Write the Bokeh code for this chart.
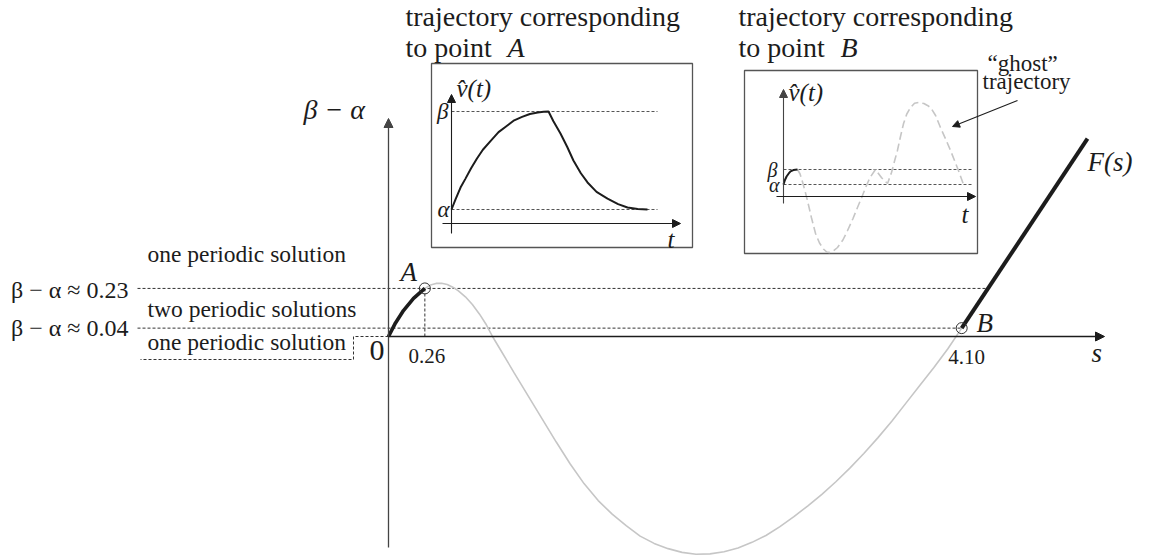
import numpy as np
from bokeh.plotting import figure
from bokeh.models import Range1d, Arrow, NormalHead
from bokeh.core.properties import value
from bokeh.embed import file_html
from bokeh.resources import INLINE

# ---------------- data ----------------
# F(s): solid black branch from the origin up to point A
s_left = [0.0, 0.05, 0.107, 0.179, 0.26]
F_left = [0.0, 0.065, 0.124, 0.182, 0.23]
# F(s): grey branch between A and B
s_grey = [0.26, 0.30, 0.34, 0.38, 0.42, 0.46, 0.50, 0.55, 0.60, 0.65, 0.70, 0.744,
          0.82, 0.90, 1.00, 1.10, 1.20, 1.30, 1.40, 1.50, 1.60, 1.70, 1.80, 1.90,
          2.00, 2.10, 2.20, 2.30, 2.40, 2.50, 2.60, 2.70, 2.80, 2.90, 3.00, 3.10,
          3.20, 3.30, 3.40, 3.50, 3.60, 3.70, 3.80, 3.90, 4.00, 4.10]
F_grey = [0.23, 0.246, 0.254, 0.255, 0.249, 0.236, 0.218, 0.19, 0.153, 0.108, 0.056, 0.0,
          -0.085, -0.175, -0.285, -0.395, -0.505, -0.61, -0.705, -0.785, -0.85, -0.905,
          -0.955, -0.99, -1.015, -1.033, -1.042, -1.04, -1.03, -1.012, -0.985, -0.952,
          -0.91, -0.862, -0.81, -0.755, -0.695, -0.63, -0.56, -0.485, -0.405, -0.32,
          -0.235, -0.15, -0.06, 0.04]
# F(s): solid black branch beyond B
s_right = [4.10, 5.00]
F_right = [0.04, 0.947]

point_A = (0.26, 0.23)
point_B = (4.10, 0.04)
level_values = [0.04, 0.23]
level_labels = ["β − α ≈ 0.04", "β − α ≈ 0.23"]
tick_values = [0.26, 4.10]
tick_labels = ["0.26", "4.10"]

# inset A: trajectory for point A  (t, v normalised: alpha=0, beta=1)
tA = [0.0, 0.02, 0.046, 0.07, 0.10, 0.13, 0.16, 0.20, 0.24, 0.28, 0.32, 0.36,
      0.40, 0.44, 0.47, 0.495, 0.52, 0.556, 0.59, 0.622, 0.66, 0.694, 0.74,
      0.796, 0.85, 0.898, 0.95, 1.0]
vA = [0.0, 0.10, 0.224, 0.31, 0.42, 0.52, 0.61, 0.70, 0.79, 0.85, 0.91, 0.945,
      0.975, 0.99, 0.998, 1.0, 0.9, 0.776, 0.64, 0.5, 0.37, 0.276, 0.18,
      0.112, 0.055, 0.02, 0.005, 0.0]
# inset B: trajectory for point B
tB_black = [0.0, 0.008, 0.017, 0.028, 0.039, 0.055, 0.078]
vB_black = [0.0, 0.3, 0.53, 0.72, 0.87, 0.96, 1.0]
tB_ghost = [0.078, 0.092, 0.105, 0.12, 0.133, 0.155, 0.178, 0.20, 0.222, 0.24,
            0.255, 0.275, 0.30, 0.33, 0.356, 0.385, 0.411, 0.435, 0.456, 0.48,
            0.511, 0.545, 0.578, 0.60, 0.62, 0.633, 0.65, 0.667, 0.685, 0.706,
            0.728, 0.75, 0.78, 0.80, 0.817, 0.845, 0.872, 0.90, 0.928, 0.95,
            0.972, 1.0]
vB_ghost = [1.0, 0.7, 0.2, -0.45, -1.067, -2.2, -3.267, -3.9, -4.3, -4.5,
            -4.53, -4.45, -4.2, -3.7, -3.067, -2.3, -1.533, -0.85, -0.2, 0.45,
            1.0, 0.45, 0.067, 0.8, 1.7, 2.267, 3.2, 4.067, 4.7, 5.133,
            5.42, 5.467, 5.4, 5.27, 5.133, 4.6, 3.8, 3.05, 2.267, 1.6,
            0.933, 0.0]

# ---------------- layout ----------------
W, H = 1149, 560
PAGE = 0
OX, OY, SX, SY = 388, 336, 139.8, 209.0          # main s/F frame
AX0, AY0, ASX, ASY = 451, 209, 196.0, 98.0        # inset A
BX0, BY0, BSX, BSY = 783, 184, 180.0, 15.0        # inset B

FONT = "Liberation Serif"
INK = "#1c1c1c"
AXC = "#333333"
GREY = "#c6c6c6"


def rng(origin, scale, lo, hi, flip=False):
    if flip:
        return Range1d((origin - hi) / scale, (origin - lo) / scale)
    return Range1d((lo - origin) / scale, (hi - origin) / scale)


def sx(px):
    return (px - OX) / SX


def sy(py):
    return (OY - py) / SY


p = figure(width=W, height=H, output_backend="svg", toolbar_location=None,
           x_range=rng(OX, SX, PAGE, PAGE + W),
           y_range=rng(OY, SY, PAGE, PAGE + H, flip=True),
           x_axis_type=None, y_axis_type=None, min_border=0)
p.grid.visible = False
p.outline_line_color = None
p.extra_x_ranges = {"tA": rng(AX0, ASX, PAGE, PAGE + W),
                    "tB": rng(BX0, BSX, PAGE, PAGE + W)}
p.extra_y_ranges = {"vA": rng(AY0, ASY, PAGE, PAGE + H, flip=True),
                    "vB": rng(BY0, BSY, PAGE, PAGE + H, flip=True)}


def txt(x, y, s, size, style="normal", align="left", baseline="middle",
        color=INK, xr=None, yr=None):
    kw = {}
    if xr:
        kw["x_range_name"] = xr
    if yr:
        kw["y_range_name"] = yr
    p.text(x=[x], y=[y], text=[s], text_font=value(FONT),
           text_font_size=value(f"{size}px"), text_font_style=style,
           text_align=align, text_baseline=baseline, text_color=color, **kw)


def arrow(x0, y0, x1, y1, color=AXC, width=1.2, size=9, xr="default", yr="default"):
    p.add_layout(Arrow(x_start=x0, y_start=y0, x_end=x1, y_end=y1,
                       line_color=color, line_width=width,
                       x_range_name=xr, y_range_name=yr,
                       end=NormalHead(size=size, fill_color=color, line_color=color,
                                      line_width=1)))


DASH = "3 2"

# ---------------- main diagram ----------------
p.line([sx(137), point_B[0]], [level_values[0]] * 2, line_color=AXC, line_width=1, line_dash=DASH)
s_cross = s_right[0] + (level_values[1] - F_right[0]) * (s_right[1] - s_right[0]) / (F_right[1] - F_right[0])
p.line([sx(137), s_cross], [level_values[1]] * 2, line_color=AXC, line_width=1, line_dash=DASH)
p.line([0, sx(353), sx(353), sx(140)], [0, 0, sy(359), sy(359)],
       line_color=AXC, line_width=1, line_dash=DASH)
p.line([point_A[0], point_A[0]], [0, point_A[1]], line_color=AXC, line_width=1, line_dash=DASH)

p.line(s_grey, F_grey, line_color=GREY, line_width=1.6)
p.line(s_left, F_left, line_color=INK, line_width=3.6)
p.line(s_right, F_right, line_color=INK, line_width=4.0)

arrow(0, sy(547), 0, sy(118), color="#444444", width=1.3)
arrow(0, 0, sx(1104), 0, color=INK, width=1.3)

p.scatter([point_A[0], point_B[0]], [point_A[1], point_B[1]], marker="circle", size=11,
          fill_color=None, line_color=AXC, line_width=1)

txt(sx(303), sy(109), "β − α", 28, style="italic")
txt(sx(128), sy(289), level_labels[1], 24, align="right")
txt(sx(128), sy(327), level_labels[0], 24, align="right")
txt(sx(147), sy(253), "one periodic solution", 23.5)
txt(sx(147), sy(308), "two periodic solutions", 23.5)
txt(sx(147), sy(341), "one periodic solution", 23.5)
txt(sx(384), sy(350), "0", 30, align="right")
txt(tick_values[0] + sx(426) - sx(424), sy(355), tick_labels[0], 21, align="center")
txt(tick_values[1] + sx(966) - sx(961), sy(356), tick_labels[1], 21, align="center")
txt(sx(400), sy(271), "A", 27, style="italic")
txt(sx(976), sy(322), "B", 27, style="italic")
txt(sx(1091), sy(352), "s", 27, style="italic")
txt(sx(1087), sy(161), "F(s)", 27, style="italic")

# ---------------- inset A ----------------
p.quad(left=[(431 - AX0) / ASX], right=[(692 - AX0) / ASX],
       top=[(AY0 - 63) / ASY], bottom=[(AY0 - 247) / ASY],
       fill_color=None, line_color="#555555", line_width=1.3,
       x_range_name="tA", y_range_name="vA")
for lv in (0, 1):
    p.line([0, 1.051], [lv, lv], line_color="#555555", line_width=1, line_dash=DASH,
           x_range_name="tA", y_range_name="vA")
p.line(tA, vA, line_color=INK, line_width=2, x_range_name="tA", y_range_name="vA")
arrow(0, (AY0 - 233) / ASY, 0, (AY0 - 94) / ASY, color=INK, width=1.1, size=8, xr="tA", yr="vA")
arrow((442 - AX0) / ASX, (AY0 - 223) / ASY, (680 - AX0) / ASX, (AY0 - 223) / ASY,
      color=INK, width=1.1, size=8, xr="tA", yr="vA")
txt((448 - AX0) / ASX, 1, "β", 23, style="italic", align="right", xr="tA", yr="vA")
txt((449 - AX0) / ASX, 0, "α", 23, style="italic", align="right", xr="tA", yr="vA")
txt((456 - AX0) / ASX, (AY0 - 88) / ASY, "v̂(t)", 25, style="italic", xr="tA", yr="vA")
txt((667 - AX0) / ASX, (AY0 - 239) / ASY, "t", 25, style="italic", xr="tA", yr="vA")

txt(sx(405), sy(16), "trajectory corresponding", 28)
txt(sx(405), sy(47), "to point", 28)
txt(sx(507), sy(47), "A", 28, style="italic")

# ---------------- inset B ----------------
p.quad(left=[(744 - BX0) / BSX], right=[(977 - BX0) / BSX],
       top=[(BY0 - 70) / BSY], bottom=[(BY0 - 253) / BSY],
       fill_color=None, line_color="#555555", line_width=1.3,
       x_range_name="tB", y_range_name="vB")
for lv in (0, 1):
    p.line([0, 1.05], [lv, lv], line_color="#555555", line_width=1, line_dash=DASH,
           x_range_name="tB", y_range_name="vB")
p.line(tB_ghost, vB_ghost, line_color=GREY, line_width=1.6, line_dash="8 4",
       x_range_name="tB", y_range_name="vB")
p.line(tB_black, vB_black, line_color=INK, line_width=2, x_range_name="tB", y_range_name="vB")
arrow(0, (BY0 - 203) / BSY, 0, (BY0 - 89) / BSY, color="#444444", width=1.1, size=8, xr="tB", yr="vB")
arrow((776 - BX0) / BSX, (BY0 - 196) / BSY, (975 - BX0) / BSX, (BY0 - 196) / BSY,
      color=INK, width=1.1, size=8, xr="tB", yr="vB")
txt((777 - BX0) / BSX, 1, "β", 20, style="italic", align="right", xr="tB", yr="vB")
txt((779 - BX0) / BSX, 0, "α", 20, style="italic", align="right", xr="tB", yr="vB")
txt((788 - BX0) / BSX, (BY0 - 92) / BSY, "v̂(t)", 25, style="italic", xr="tB", yr="vB")
txt((961 - BX0) / BSX, (BY0 - 214) / BSY, "t", 25, style="italic", xr="tB", yr="vB")

txt(sx(738), sy(16), "trajectory corresponding", 28)
txt(sx(738), sy(47), "to point", 28)
txt(sx(840), sy(47), "B", 28, style="italic")

txt(sx(987), sy(63), "“ghost”", 23)
txt(sx(982), sy(81), "trajectory", 23)
arrow(sx(1017), sy(100), sx(952), sy(126), color=INK, width=1.1, size=7)

open("out.html", "w").write(file_html(p, INLINE))
